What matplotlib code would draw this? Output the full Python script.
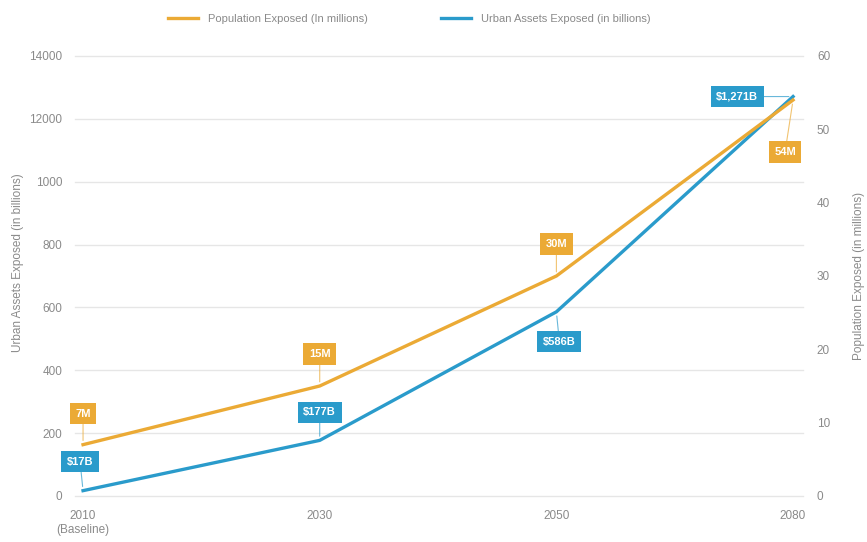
import matplotlib.pyplot as plt
from matplotlib.lines import Line2D

years = ["2010\n(Baseline)", "2030", "2050", "2080"]
population = [7, 15, 30, 54]  # millions, right axis
assets = [17, 177, 586, 1271]  # billions, left axis
pop_labels = ["7M", "15M", "30M", "54M"]
asset_labels = ["$17B", "$177B", "$586B", "$1,271B"]
left_ticks = [0, 200, 400, 600, 800, 1000, 1200, 1400]
left_tick_labels = ["0", "200", "400", "600", "800", "1000", "12000", "14000"]
right_ticks = [0, 10, 20, 30, 40, 50, 60]

orange = "#EBAA35"
blue = "#2A9BCB"
grey = "#8a8a8a"

plt.rcParams["font.family"] = ["Liberation Sans", "DejaVu Sans"]

fig = plt.figure(figsize=(8.67, 5.42), dpi=100)
ax = fig.add_axes([75 / 867, 1 - 496 / 542, (803 - 75) / 867, (496 - 56) / 542])
ax2 = ax.twinx()

x = list(range(len(years)))
ax.plot(x, assets, color=blue, lw=2.4, zorder=3)
ax2.plot(x, population, color=orange, lw=2.4, zorder=3)

ax.set_xlim(-0.034, 3.042)
ax.set_ylim(0, 1400)
ax2.set_ylim(0, 60)
ax.set_xticks(x)
ax.set_xticklabels(years)
ax.set_yticks(left_ticks)
ax.set_yticklabels(left_tick_labels)
ax2.set_yticks(right_ticks)

ax.yaxis.grid(True, color="#e6e6e6", lw=1, clip_on=False)
ax.xaxis.grid(False)
ax.set_axisbelow(True)
for a in (ax, ax2):
    for s in a.spines.values():
        s.set_visible(False)
    a.tick_params(length=0, colors=grey, labelsize=8.5)
ax.tick_params(axis="y", pad=9)
ax.tick_params(axis="x", pad=10)
ax2.tick_params(axis="y", pad=10)

ax.set_ylabel("Urban Assets Exposed (in billions)", color=grey, fontsize=8.5)
ax2.set_ylabel("Population Exposed (in millions)", color=grey, fontsize=8.5)
ax.yaxis.set_label_coords(-0.07, 0.53)
ax2.yaxis.set_label_coords(1.068, 0.5)

# offsets in pixels from the point to the label box
pop_offsets = [(0, 31), (0, 32), (0, 32), (-8, -52)]
asset_offsets = [(-3, 29), (0, 28), (3, -30), (-56, 0)]

for i in x:
    ax2.annotate(
        pop_labels[i], (i, population[i]), xytext=pop_offsets[i],
        textcoords="offset pixels", ha="center", va="center",
        color="white", fontsize=8, fontweight="bold",
        bbox=dict(boxstyle="square,pad=0.5", fc=orange, ec="none"),
        arrowprops=dict(arrowstyle="-", color=orange, lw=0.8, alpha=0.7,
                        shrinkA=0, shrinkB=3),
        zorder=5,
    )
    ax.annotate(
        asset_labels[i], (i, assets[i]), xytext=asset_offsets[i],
        textcoords="offset pixels", ha="center", va="center",
        color="white", fontsize=8, fontweight="bold",
        bbox=dict(boxstyle="square,pad=0.5", fc=blue, ec="none"),
        arrowprops=dict(arrowstyle="-", color=blue, lw=0.8, alpha=0.7,
                        shrinkA=0, shrinkB=3),
        zorder=5,
    )

handles = [
    Line2D([], [], color=orange, lw=2.4),
    Line2D([], [], color=blue, lw=2.4),
]
fig.legend(
    handles, ["Population Exposed (In millions)", "Urban Assets Exposed (in billions)"],
    loc="center", bbox_to_anchor=(0.472, 1 - 19 / 542), ncol=2, frameon=False,
    fontsize=8, labelcolor=grey, handlelength=2.7, columnspacing=6.6, handletextpad=0.9,
)

fig.savefig("out.png", dpi=100)
